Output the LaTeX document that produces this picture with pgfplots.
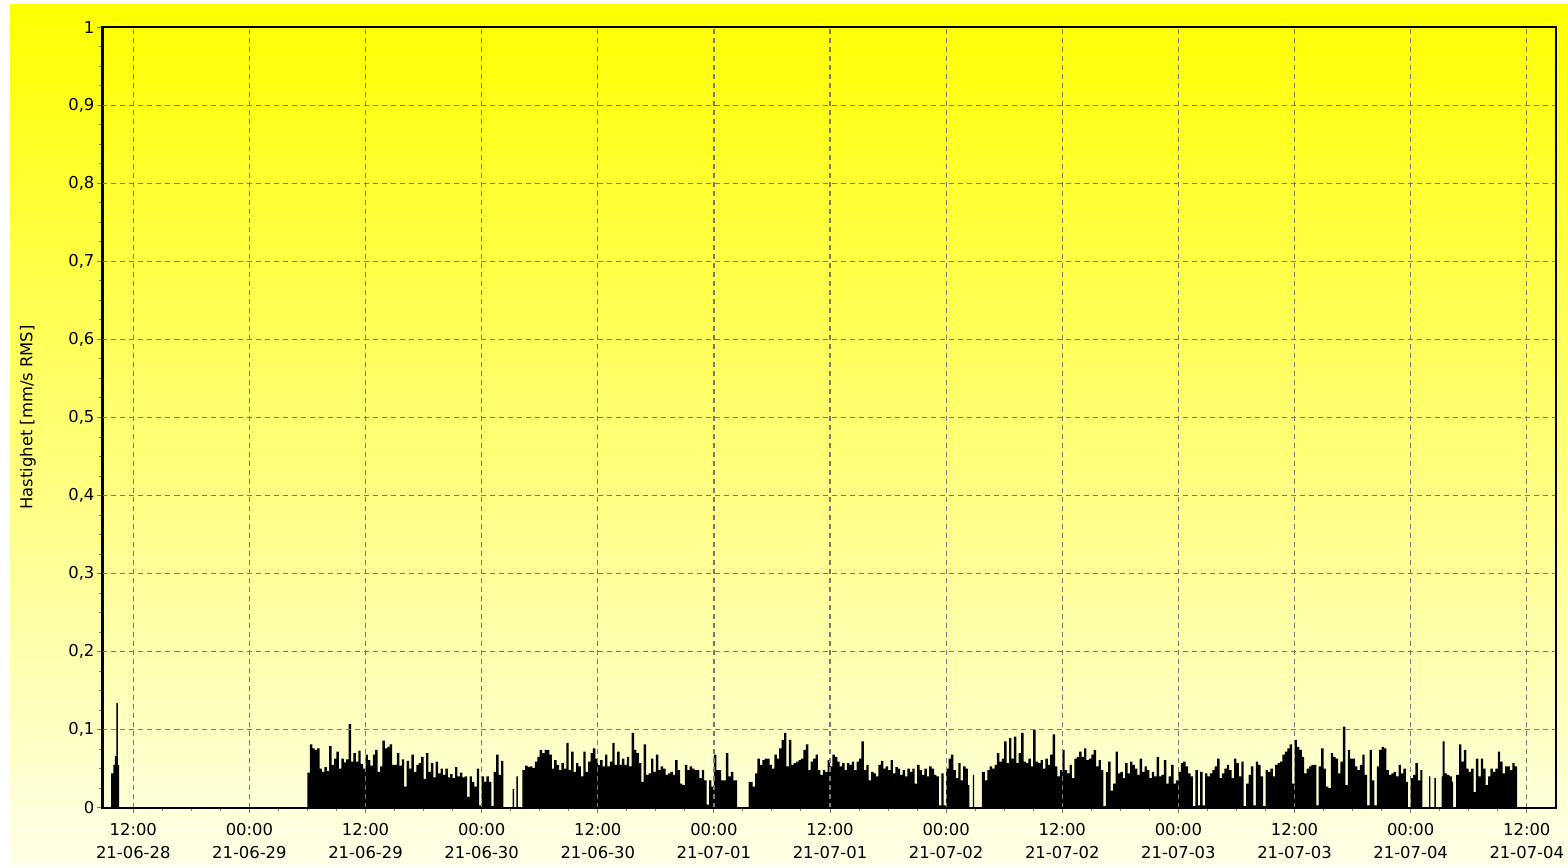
\documentclass[border=0pt]{standalone}
\usepackage{fontspec}
\setmainfont{DejaVu Sans}
\usepackage{pgfplots}
\pgfplotsset{compat=1.18}
\definecolor{gridgray}{RGB}{120,120,120}
\definecolor{paleyellow}{RGB}{255,255,232}
\newcommand\chartfont{\fontsize{8.2}{11.5}\selectfont}
\begin{document}
\begin{tikzpicture}
\useasboundingbox (-51.25pt,-29.65pt) rectangle (732.75pt,403.85pt);
\fill[white] (-51.25pt,-29.65pt) rectangle (732.75pt,403.85pt);
\shade[top color=yellow, bottom color=paleyellow] (-46.25pt,-28.65pt) rectangle (732.75pt,401.35pt);
\begin{axis}[
  scale only axis, width=726.65pt, height=390.2pt,
  xmin=8.82, xmax=159, ymin=0, ymax=1,
  axis on top,
  axis line style={line width=1pt, black},
  tick align=outside, tick pos=left,
  major tick length=2.5pt, minor tick length=1.5pt,
  tick style={gridgray, line width=0.5pt},
  grid=major,
  major grid style={gridgray, line width=0.6pt, dash pattern=on 2.5pt off 2pt},
  xtick={12,24,...,156},
  minor x tick num=3,
  xticklabels={12:00\\21-06-28,00:00\\21-06-29,12:00\\21-06-29,00:00\\21-06-30,
    12:00\\21-06-30,00:00\\21-07-01,12:00\\21-07-01,00:00\\21-07-02,
    12:00\\21-07-02,00:00\\21-07-03,12:00\\21-07-03,00:00\\21-07-04,12:00\\21-07-04},
  xticklabel style={align=center, font=\chartfont, yshift=-2pt},
  ytick={0,0.1,0.2,0.3,0.4,0.5,0.6,0.7,0.8,0.9,1},
  minor y tick num=3,
  yticklabels={0,{0,1},{0,2},{0,3},{0,4},{0,5},{0,6},{0,7},{0,8},{0,9},1},
  yticklabel style={font=\chartfont, xshift=2pt},
  ylabel={Hastighet [mm/s RMS]},
  ylabel style={at={(axis description cs:-0.0513,0.5)}, anchor=center, font=\chartfont},
]
% velocity, one value per 15 min (hours from 21-06-28 00:00)
\addplot[const plot, fill=black, draw=none] coordinates {
(8.82,0)(9.70,0.044)(9.95,0.055)(10.10,0.066)(10.25,0.134)(10.40,0.055)(10.55,0)
(30,0.045)(30.25,0.081)(30.5,0.076)(30.75,0.074)
(31,0.076)(31.25,0.050)(31.5,0.046)(31.75,0.052)
(32,0.047)(32.25,0.079)(32.5,0.055)(32.75,0.063)
(33,0.072)(33.25,0.050)(33.5,0.063)(33.75,0.058)
(34,0.062)(34.25,0.107)(34.5,0.059)(34.75,0.070)
(35,0.059)(35.25,0.073)(35.5,0.056)(35.75,0.050)
(36,0.068)(36.25,0.061)(36.5,0.054)(36.75,0.068)
(37,0.074)(37.25,0.046)(37.5,0.053)(37.75,0.086)
(38,0.076)(38.25,0.078)(38.5,0.081)(38.75,0.055)
(39,0.055)(39.25,0.070)(39.5,0.054)(39.75,0.062)
(40,0.027)(40.25,0.060)(40.5,0.050)(40.75,0.068)
(41,0.046)(41.25,0.055)(41.5,0.057)(41.75,0.065)
(42,0.037)(42.25,0.070)(42.5,0.046)(42.75,0.057)
(43,0.039)(43.25,0.059)(43.5,0.044)(43.75,0.050)
(44,0.042)(44.25,0.050)(44.5,0.039)(44.75,0.043)
(45,0.038)(45.25,0.052)(45.5,0.040)(45.75,0.045)
(46,0.039)(46.25,0.040)(46.5,0.014)(46.75,0.040)
(47,0.033)(47.25,0.027)(47.5,0.050)(47.75,0.003)
(48,0.040)(48.25,0.033)(48.5,0.040)(48.75,0.033)
(49,0.002)(49.25,0.046)(49.5,0.068)(49.75,0.042)
(50,0.060)(50.25,0)(51.2,0.024)(51.35,0)(51.6,0.040)(51.75,0)
(52.2,0.048)(52.5,0.054)(52.75,0.052)
(53,0.053)(53.25,0.051)(53.5,0.059)(53.75,0.065)
(54,0.074)(54.25,0.070)(54.5,0.074)(54.75,0.074)
(55,0.068)(55.25,0.050)(55.5,0.061)(55.75,0.055)
(56,0.048)(56.25,0.057)(56.5,0.050)(56.75,0.083)
(57,0.048)(57.25,0.072)(57.5,0.046)(57.75,0.057)
(58,0.053)(58.25,0.040)(58.5,0.072)(58.75,0.046)
(59,0.059)(59.25,0.070)(59.5,0.076)(59.75,0.063)
(60,0.055)(60.25,0.061)(60.5,0.053)(60.75,0.068)
(61,0.053)(61.25,0.059)(61.5,0.083)(61.75,0.055)
(62,0.072)(62.25,0.055)(62.5,0.063)(62.75,0.055)
(63,0.065)(63.25,0.053)(63.5,0.096)(63.75,0.074)
(64,0.070)(64.25,0.057)(64.5,0.033)(64.75,0.081)
(65,0.042)(65.25,0.044)(65.5,0.063)(65.75,0.046)
(66,0.068)(66.25,0.048)(66.5,0.053)(66.75,0.050)
(67,0.042)(67.25,0.044)(67.5,0.046)(67.75,0.042)
(68,0.061)(68.25,0.048)(68.5,0.031)(68.75,0.029)
(69,0.055)(69.25,0.048)(69.5,0.053)(69.75,0.050)
(70,0.048)(70.25,0.048)(70.5,0.038)(70.75,0.048)
(71,0.035)(71.25,0.004)(71.5,0.035)(71.75,0.027)
(72,0.068)(72.25,0.048)(72.5,0.048)(72.75,0.035)
(73,0.035)(73.25,0.070)(73.5,0.040)(73.75,0.046)
(74,0.035)(74.25,0.035)(74.4,0)(75.6,0.033)
(75.75,0.033)(76,0.027)(76.25,0.044)(76.5,0.063)(76.75,0.055)
(77,0.061)(77.25,0.063)(77.5,0.063)(77.75,0.055)
(78,0.050)(78.25,0.068)(78.5,0.063)(78.75,0.076)
(79,0.087)(79.25,0.096)(79.5,0.053)(79.75,0.087)
(80,0.055)(80.25,0.057)(80.5,0.059)(80.75,0.061)
(81,0.063)(81.25,0.074)(81.5,0.081)(81.75,0.048)
(82,0.059)(82.25,0.063)(82.5,0.068)(82.75,0.048)
(83,0.042)(83.25,0.048)(83.5,0.046)(83.75,0.061)
(84,0.053)(84.25,0.068)(84.5,0.065)(84.75,0.059)
(85,0.053)(85.25,0.057)(85.5,0.048)(85.75,0.057)
(86,0.055)(86.25,0.059)(86.5,0.048)(86.75,0.059)
(87,0.063)(87.25,0.085)(87.5,0.048)(87.75,0.055)
(88,0.035)(88.25,0.046)(88.5,0.044)(88.75,0.040)
(89,0.055)(89.25,0.060)(89.5,0.050)(89.75,0.053)
(90,0.048)(90.25,0.061)(90.5,0.044)(90.75,0.052)
(91,0.050)(91.25,0.042)(91.5,0.048)(91.75,0.040)
(92,0.050)(92.25,0.046)(92.5,0.050)(92.75,0.031)
(93,0.055)(93.25,0.048)(93.5,0.042)(93.75,0.050)
(94,0.040)(94.25,0.053)(94.5,0.050)(94.75,0.042)
(95,0.040)(95.25,0.003)(95.5,0.044)(95.75,0.003)
(96,0.050)(96.25,0.063)(96.5,0.068)(96.75,0.048)
(97,0.038)(97.25,0.057)(97.5,0.035)(97.75,0.053)
(98,0.050)(98.25,0.029)(98.4,0)(98.75,0.042)(98.9,0)
(99.7,0.046)(100,0.035)(100.25,0.048)(100.5,0.053)(100.75,0.050)
(101,0.055)(101.25,0.070)(101.5,0.059)(101.75,0.063)
(102,0.085)(102.25,0.057)(102.5,0.089)(102.75,0.063)
(103,0.091)(103.25,0.057)(103.5,0.070)(103.75,0.096)
(104,0.059)(104.25,0.057)(104.5,0.063)(104.75,0.053)
(105,0.100)(105.25,0.059)(105.5,0.057)(105.75,0.061)
(106,0.050)(106.25,0.063)(106.5,0.055)(106.75,0.068)
(107,0.094)(107.25,0.053)(107.5,0.040)(107.75,0.048)
(108,0.074)(108.25,0.048)(108.5,0.044)(108.75,0.055)
(109,0.038)(109.25,0.063)(109.5,0.065)(109.75,0.072)
(110,0.065)(110.25,0.076)(110.5,0.061)(110.75,0.063)
(111,0.068)(111.25,0.074)(111.5,0.053)(111.75,0.061)
(112,0.048)(112.25,0.002)(112.5,0.046)(112.75,0.059)
(113,0.022)(113.25,0.031)(113.5,0.072)(113.75,0.044)
(114,0.046)(114.25,0.038)(114.5,0.057)(114.75,0.044)
(115,0.059)(115.25,0.055)(115.5,0.050)(115.75,0.042)
(116,0.063)(116.25,0.046)(116.5,0.053)(116.75,0.048)
(117,0.038)(117.25,0.046)(117.5,0.040)(117.75,0.065)
(118,0.040)(118.25,0.042)(118.5,0.061)(118.75,0.031)
(119,0.040)(119.25,0.055)(119.5,0.031)(119.75,0.035)
(120,0.046)(120.25,0.057)(120.5,0.059)(120.75,0.053)
(121,0.044)(121.25,0.040)(121.5,0.002)(121.75,0.048)
(122,0.003)(122.25,0.046)(122.5,0.003)(122.75,0.044)
(123,0.040)(123.25,0.044)(123.5,0.048)(123.75,0.053)
(124,0.063)(124.25,0.038)(124.5,0.044)(124.75,0.050)
(125,0.055)(125.25,0.048)(125.5,0.038)(125.75,0.063)
(126,0.057)(126.25,0.040)(126.5,0.059)(126.75,0.002)
(127,0.031)(127.25,0.042)(127.5,0.053)(127.75,0.003)
(128,0.059)(128.25,0.055)(128.5,0.040)(128.75,0.002)
(129,0.048)(129.25,0.046)(129.5,0.050)(129.75,0.040)
(130,0.055)(130.25,0.057)(130.5,0.059)(130.75,0.068)
(131,0.072)(131.25,0.076)(131.5,0.081)(131.75,0.031)
(132,0.087)(132.25,0.078)(132.5,0.074)(132.75,0.065)
(133,0.044)(133.25,0.050)(133.5,0.053)(133.75,0.055)
(134,0.055)(134.25,0.003)(134.5,0.053)(134.75,0.076)
(135,0.050)(135.25,0.027)(135.5,0.025)(135.75,0.070)
(136,0.065)(136.25,0.063)(136.5,0.044)(136.75,0.059)
(137,0.104)(137.25,0.029)(137.5,0.074)(137.75,0.063)
(138,0.063)(138.25,0.053)(138.5,0.048)(138.75,0.055)
(139,0.068)(139.25,0.042)(139.5,0.003)(139.75,0.074)
(140,0.035)(140.25,0.003)(140.5,0.053)(140.75,0.074)
(141,0.078)(141.25,0.076)(141.5,0.048)(141.75,0.042)
(142,0.044)(142.25,0.046)(142.5,0.040)(142.75,0.055)
(143,0.044)(143.25,0.050)(143.5,0.033)(143.7,0)
(144,0.038)(144.25,0.042)(144.5,0.057)(144.75,0.035)
(145,0.048)(145.2,0)(145.9,0.040)(146.05,0)(146.45,0.038)(146.6,0)
(147.2,0.040)(147.3,0.085)(147.5,0.044)(147.75,0.042)
(148,0.040)(148.25,0.033)(148.4,0)(148.7,0.042)
(149,0.081)(149.25,0.059)(149.5,0.074)(149.75,0.050)
(150,0.046)(150.25,0.050)(150.5,0.020)(150.75,0.063)
(151,0.040)(151.25,0.063)(151.5,0.050)(151.75,0.029)
(152,0.040)(152.25,0.050)(152.5,0.046)(152.75,0.050)
(153,0.072)(153.25,0.059)(153.5,0.044)(153.75,0.053)
(154,0.053)(154.25,0.048)(154.5,0.057)(154.75,0.053)
(155,0)(159,0)
} \closedcycle;
\draw[line width=1.5pt] (rel axis cs:0,0) -- (rel axis cs:0,1);
\end{axis}
\end{tikzpicture}
\end{document}
